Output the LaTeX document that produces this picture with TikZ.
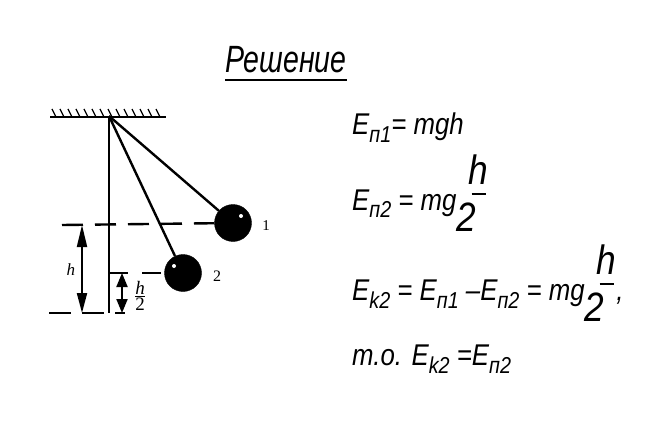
\documentclass[tikz,border=0pt]{standalone}
\usepackage{amsmath}
\usepackage{fontspec}
\setmainfont{Liberation Serif}
\newfontfamily\gost[FakeStretch=0.86]{Liberation Sans}
\newfontfamily\gostz[FakeStretch=0.75]{Liberation Sans}
\usetikzlibrary{arrows.meta}
\newcommand{\ind}[1]{\raisebox{-8pt}{\fontsize{23}{23}\selectfont #1}}
\newcommand{\frh}{\mbox{\fontsize{41}{41}\selectfont\rlap{\raisebox{-21pt}{2}}\hspace{12pt}\rlap{\hspace{3pt}\rule[15pt]{14pt}{1.8pt}}\raisebox{26pt}{h}}}

\begin{document}
\begin{tikzpicture}[x=1pt,y=-1pt]
\tikzset{shar/.style={draw, circle, fill=black, minimum size=37pt, inner sep=0pt},
  blik/.style={circle, fill=white, minimum size=4pt, inner sep=0pt},
  nit/.style={line width=2.4pt},
  shtrih/.style={dash pattern=on 21pt off 12pt, line width=2.4pt},
  razmer/.style={{Triangle[length=22pt,width=10pt]}-{Triangle[length=20pt,width=10pt]}, line width=2pt},
  razmerm/.style={{Triangle[length=14pt,width=11pt]}-{Triangle[length=14pt,width=11pt]}, line width=2pt},
  formula/.style={anchor=base west, inner sep=0pt, font=\gost\itshape\fontsize{30}{34}\selectfont}}
\useasboundingbox (0,0) rectangle (665,436);
% potolok
\coordinate (L) at (50,117);
\coordinate (R) at (166,117);
\draw[line width=2.4pt] (L) -- (R);
\foreach \x in {52,60,...,160} \draw[line width=1.2pt] (\x,109) -- (\x+4,117);
% mayatnik
\coordinate (P) at (109,116);
\coordinate (O) at (109,313);
\node[shar] (B1) at (233,223) {};
\node[shar] (B2) at (183,273) {};
\node[blik] (G1) at (241,216) {};
\node[blik] (G2) at (174,266) {};
\draw[nit] (P) -- (B1);
\draw[nit] (P) -- (B2);
\draw[nit] (P) -- (O);
\node[font=\fontsize{15}{15}\selectfont] (n1) at (266,226) {1};
\node[font=\fontsize{16}{16}\selectfont] (n2) at (217,276) {2};
% urovni
\coordinate (D1) at (62,225);
\coordinate (D2) at (109,273);
\coordinate (D3) at (49,313);
\coordinate (D4) at (125,313);
\draw[shtrih] (D1) -- (B1);
\draw[shtrih, dash pattern=on 19pt off 14pt] (D2) -- (B2);
\draw[shtrih, dash pattern=on 22pt off 11pt] (D3) -- (D4);
% razmery
\coordinate (H1) at (82,225);
\coordinate (H2) at (82,313);
\coordinate (H3) at (122,273);
\coordinate (H4) at (122,313);
\draw[razmer] (H1) -- (H2);
\draw[razmerm] (H3) -- (H4);
\node[font=\itshape\fontsize{17}{17}\selectfont] (lh) at (71,270) {h};
\node[font=\fontsize{19}{19}\selectfont, inner sep=0pt] (lh2) at (140,296) {$\genfrac{}{}{0.9pt}{1}{\mbox{\itshape h}}{\mbox{2}}$};
% reshenie
\node[anchor=base west, inner sep=0pt, font=\gostz\itshape\fontsize{38}{44}\selectfont] (tit) at (225,73) {Решение};
\draw[line width=1.2pt] ([yshift=-7pt]tit.base west) -- ([yshift=-7pt]tit.base east);
\node[formula] (f1) at (352,135) {E\ind{п1}= mgh};
\node[formula] (f2) at (352,210) {E\ind{п2} = mg\frh};
\node[formula] (f3) at (352,300) {E\ind{k2} = E\ind{п1} –E\ind{п2} = mg\frh,};
\node[formula] (f4) at (352,365) {т.о. E\ind{k2} =E\ind{п2}};
\end{tikzpicture}
\end{document}
